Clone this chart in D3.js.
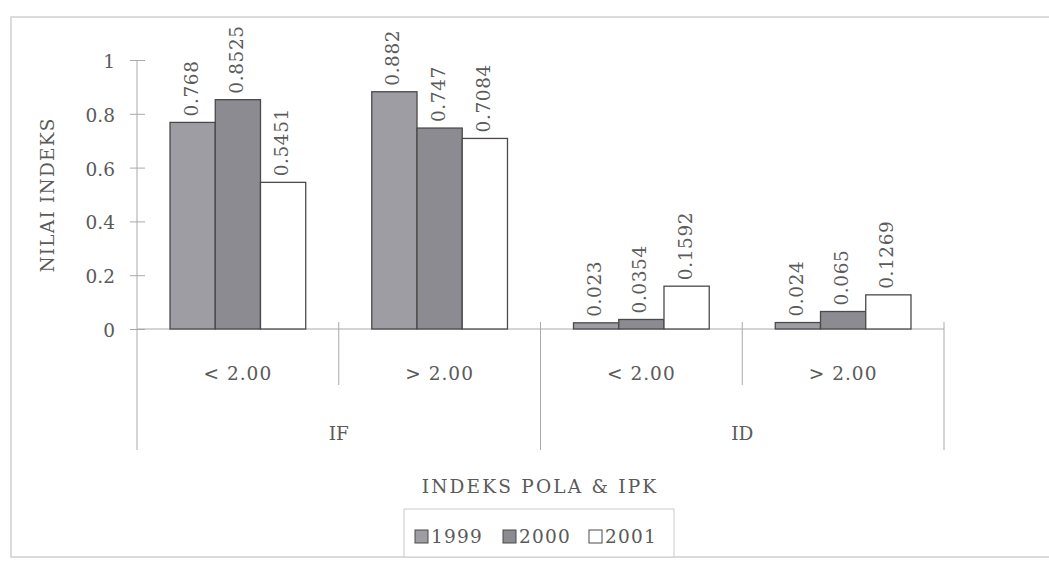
<!DOCTYPE html>
<html><head><meta charset="utf-8">
<script src="https://cdn.jsdelivr.net/npm/d3@7"></script>
<style>body{margin:0;background:#fff}svg{display:block}text{font-family:"DejaVu Serif","Liberation Serif",serif;fill:#5a5a5a}</style>
</head><body><svg id="c" width="1049" height="562"></svg>
<script>
const groups = ["IF", "ID"];
const subcats = ["< 2.00", "> 2.00"];
const categories = ["IF|< 2.00", "IF|> 2.00", "ID|< 2.00", "ID|> 2.00"];
const years = ["1999", "2000", "2001"];
const v1999 = [0.768, 0.882, 0.023, 0.024];
const v2000 = [0.8525, 0.747, 0.0354, 0.065];
const v2001 = [0.5451, 0.7084, 0.1592, 0.1269];
const labels1999 = ["0.768", "0.882", "0.023", "0.024"];
const labels2000 = ["0.8525", "0.747", "0.0354", "0.065"];
const labels2001 = ["0.5451", "0.7084", "0.1592", "0.1269"];
const yTicks = [0, 0.2, 0.4, 0.6, 0.8, 1];

const series = [v1999, v2000, v2001];
const seriesLabels = [labels1999, labels2000, labels2001];
const colors = ["#9d9da3", "#8b8b91", "#ffffff"];
const FS = 18.5;

const svg = d3.select("#c");
const x0 = 137, x1 = 944, yTop = 60, yBot = 329;
const x = d3.scaleBand().domain(categories).range([x0, x1]);
const xs = d3.scaleBand().domain(years).range([0, x.bandwidth()]).paddingOuter(0.73).paddingInner(0);
const y = d3.scaleLinear().domain([0, 1]).range([yBot, yTop]);

// outer frame
svg.append("rect").attr("x", 11).attr("y", 17).attr("width", 1045).attr("height", 540)
  .attr("fill", "none").attr("stroke", "#cfcfcf").attr("stroke-width", 1.5);

// y axis
const ya = svg.append("g").attr("transform", `translate(${x0},0)`)
  .call(d3.axisLeft(y).tickValues(yTicks).tickFormat(d3.format("~g")).tickSize(7).tickPadding(15));
ya.select(".domain").attr("stroke", "#aaa").attr("d", `M0,${yTop}V450`);
ya.selectAll(".tick line").attr("stroke", "#aaa").attr("x2", -7).attr("x1", 8);
ya.selectAll(".tick text").attr("font-size", FS).attr("fill", "#5a5a5a")
  .attr("font-family", "DejaVu Serif, serif").attr("dy", "0.4em");

// x axis line
svg.append("line").attr("x1", x0).attr("x2", x1).attr("y1", yBot).attr("y2", yBot).attr("stroke", "#aaa");

// separators
categories.forEach((c, i) => {
  const xx = x(c) + x.bandwidth();
  const isGroupEnd = i % 2 === 1;
  svg.append("line").attr("x1", xx).attr("x2", xx).attr("y1", 322).attr("y2", isGroupEnd ? 450 : 385)
    .attr("stroke", "#aaa");
});

// bars
series.forEach((vals, si) => {
  svg.append("g").selectAll("rect").data(categories).join("rect")
    .attr("x", c => x(c) + xs(years[si]))
    .attr("width", xs.bandwidth())
    .attr("y", (c, i) => y(vals[i]))
    .attr("height", (c, i) => yBot - y(vals[i]))
    .attr("fill", colors[si]).attr("stroke", "#4a4a4a").attr("stroke-width", 1.3);
  svg.append("g").selectAll("text").data(categories).join("text")
    .attr("transform", (c, i) => `translate(${x(c) + xs(years[si]) + xs.bandwidth() / 2},${y(vals[i]) - 6}) rotate(-90)`)
    .attr("dominant-baseline", "middle").attr("font-size", FS).attr("letter-spacing", 0.6)
    .text((c, i) => seriesLabels[si][i]);
});

// subcategory labels
svg.append("g").selectAll("text").data(categories).join("text")
  .attr("x", c => x(c) + x.bandwidth() / 2).attr("y", 380)
  .attr("text-anchor", "middle").attr("font-size", FS).attr("letter-spacing", 1)
  .text(c => c.split("|")[1]);

// group labels
groups.forEach((g, gi) => {
  const a = x(categories[gi * 2]), b = x(categories[gi * 2 + 1]) + x.bandwidth();
  svg.append("text").attr("x", (a + b) / 2).attr("y", 440).attr("text-anchor", "middle")
    .attr("font-size", FS).text(g);
});

// axis titles
svg.append("text").attr("x", 540).attr("y", 493).attr("text-anchor", "middle")
  .attr("font-size", FS).attr("letter-spacing", 2.2).text("INDEKS POLA & IPK");
svg.append("text").attr("transform", "translate(54,195) rotate(-90)").attr("text-anchor", "middle")
  .attr("font-size", FS).attr("letter-spacing", 1.2).text("NILAI INDEKS");

// legend
const lg = svg.append("g");
lg.append("rect").attr("x", 404).attr("y", 509).attr("width", 270).attr("height", 48)
  .attr("fill", "#fff").attr("stroke", "#ccc");
const lx = [415, 503, 589];
years.forEach((yr, i) => {
  lg.append("rect").attr("x", lx[i]).attr("y", 530).attr("width", 13).attr("height", 13)
    .attr("fill", colors[i]).attr("stroke", "#4a4a4a");
  lg.append("text").attr("x", lx[i] + 16).attr("y", 543).attr("font-size", FS).attr("letter-spacing", 1.2).text(yr);
});
</script></body></html>
